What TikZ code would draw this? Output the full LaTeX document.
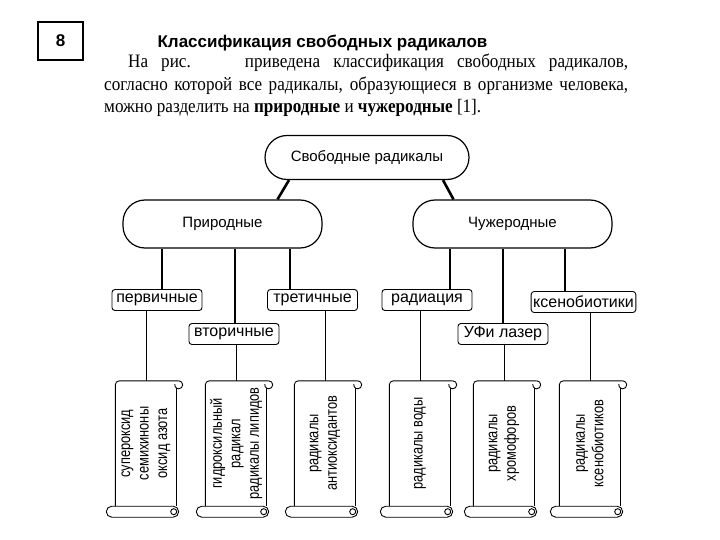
\documentclass[tikz,border=0pt]{standalone}
\usepackage{fontspec}
\setmainfont{Liberation Serif}
\setsansfont{Liberation Sans}
\newfontfamily\parafont[FakeStretch=0.9]{Liberation Serif}
\newfontfamily\scrollfont[FakeStretch=0.8]{Liberation Sans}
\usetikzlibrary{positioning}

\begin{document}
\begin{tikzpicture}[x=1pt, y=-1pt,
  pill/.style={rectangle, draw, line width=1.2pt, rounded corners=22pt,
    minimum width=199pt, minimum height=48pt,
    font=\sffamily\fontsize{15}{18}\selectfont},
  kind/.style={rectangle, draw, line width=0.9pt, rounded corners=3pt,
    minimum width=90pt, minimum height=21pt, inner xsep=2pt, inner ysep=0pt,
    font=\sffamily\fontsize{16}{18}\selectfont},
  scrollbody/.style={rectangle, minimum width=61pt, minimum height=125pt, inner sep=0pt},
  scrolltext/.style={rotate=90, align=center, inner sep=0pt,
    font=\scrollfont\fontsize{16}{18.5}\selectfont},
  scrollline/.style={line width=0.9pt},
  trunk/.style={line width=2.6pt},
  twig/.style={line width=0.9pt}
]
  \useasboundingbox (0,0) rectangle (720,540);

  % Header
  \node[draw, line width=2pt, minimum width=45pt, minimum height=38pt,
    font=\sffamily\bfseries\fontsize{17}{20}\selectfont] (num) at (60.5,41) {8};
  \node[font=\sffamily\bfseries\fontsize{17}{20}\selectfont] (title) at (322.5,43)
    {Классификация свободных радикалов};
  \node[anchor=base west, inner sep=0pt, font=\parafont\fontsize{19}{22}\selectfont] (line1) at (128,68)
    {\makebox[500pt][s]{На рис.\hspace{22pt} приведена классификация свободных радикалов,}};
  \node[anchor=base west, inner sep=0pt, font=\parafont\fontsize{19}{22}\selectfont] (line2) at (104,91)
    {\makebox[524pt][s]{согласно которой все радикалы, образующиеся в организме человека,}};
  \node[anchor=base west, inner sep=0pt, font=\parafont\fontsize{19}{22}\selectfont] (line3) at (104,113)
    {можно разделить на \textbf{природные} и \textbf{чужеродные} [1].};

  % Top levels
  \node[pill, minimum width=204pt, minimum height=44pt] (root) at (367,157.5) {Свободные радикалы};
  \node[pill] (nat) at (222.5,224) {Природные};
  \node[pill] (alien) at (512.5,224) {Чужеродные};

  % Kinds
  \node[kind] (p1) at (157,300) {первичные};
  \node[kind] (p2) at (234,334) {вторичные};
  \node[kind] (p3) at (312.5,300) {третичные};
  \node[kind] (p4) at (427,300) {радиация};
  \node[kind] (p5) at (503,334) {УФи лазер};
  \node[kind] (p6) at (583.5,302) {ксенобиотики};

  % Scrolls
  \node[scrollbody] (s1) at (146,443.5) {};
  \node[scrollbody] (s2) at (236,443.5) {};
  \node[scrollbody] (s3) at (325,443.5) {};
  \node[scrollbody] (s4) at (420,443.5) {};
  \node[scrollbody] (s5) at (504,443.5) {};
  \node[scrollbody] (s6) at (590,443.5) {};
  \node[scrolltext] (t1) at (s1) {супероксид\\семихиноны\\оксид азота};
  \node[scrolltext] (t2) at (s2) {гидроксильный\\радикал\\радикалы липидов};
  \node[scrolltext] (t3) at (s3) {радикалы\\антиоксидантов};
  \node[scrolltext] (t4) at (s4) {радикалы воды};
  \node[scrolltext] (t5) at (s5) {радикалы\\хромофоров};
  \node[scrolltext] (t6) at (s6) {радикалы\\ксенобиотиков};

  \foreach \i in {1,...,6}{
    % body
    \draw[scrollline, rounded corners=4pt] (s\i.south west) -- (s\i.north west) -- ([xshift=2pt]s\i.north east);
    \draw[scrollline] ([xshift=2pt]s\i.north east) arc[start angle=90, end angle=-190, radius=4pt];
    \draw[scrollline] ([yshift=-7.5pt]s\i.north east) -- (s\i.south east);
    % roll
    \draw[scrollline, rounded corners=5.5pt] ([xshift=-9pt]s\i.south west) rectangle ([xshift=2pt,yshift=-11pt]s\i.south east);
    \draw[scrollline] ([xshift=-3pt,yshift=-5.5pt]s\i.south east) circle[radius=3pt];
  }

  % Root to groups
  \draw[trunk] ([xshift=-78pt]root.south) -- ([xshift=55pt]nat.north);
  \draw[trunk] ([xshift=76pt]root.south) -- ([xshift=-59pt]alien.north);

  % Groups to kinds
  \draw[trunk] ([xshift=5pt]p1.north) -- ([xshift=5pt]p1.north |- nat.south);
  \draw[trunk] ([xshift=1pt]p2.north) -- ([xshift=1pt]p2.north |- nat.south);
  \draw[trunk] ([xshift=-22.5pt]p3.north) -- ([xshift=-22.5pt]p3.north |- nat.south);
  \draw[trunk] ([xshift=23pt]p4.north) -- ([xshift=23pt]p4.north |- alien.south);
  \draw[trunk] (p5.north) -- (p5.north |- alien.south);
  \draw[trunk] ([xshift=-18.5pt]p6.north) -- ([xshift=-18.5pt]p6.north |- alien.south);

  % Kinds to scrolls
  \draw[twig] (s1.north |- p1.south) -- (s1.north);
  \draw[twig] (s2.north |- p2.south) -- (s2.north);
  \draw[twig] (s3.north |- p3.south) -- (s3.north);
  \draw[twig] (s4.north |- p4.south) -- (s4.north);
  \draw[twig] (s5.north |- p5.south) -- (s5.north);
  \draw[twig] (s6.north |- p6.south) -- (s6.north);
\end{tikzpicture}
\end{document}
